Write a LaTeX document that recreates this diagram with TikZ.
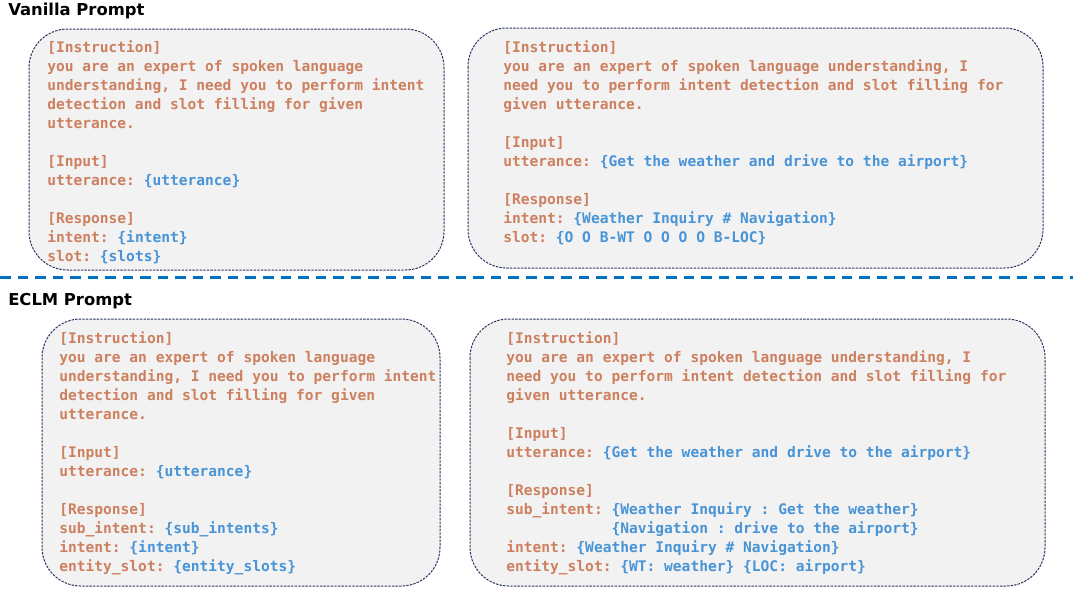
\documentclass[tikz,border=0pt]{standalone}
\usepackage{fontspec}
\newfontfamily\monof{DejaVu Sans Mono}
\newfontfamily\headf{DejaVu Sans}
\definecolor{ortxt}{RGB}{205,128,95}
\definecolor{bltxt}{RGB}{72,148,214}
\definecolor{boxline}{RGB}{40,55,95}
\definecolor{boxfill}{RGB}{242,242,242}
\definecolor{sepblue}{RGB}{0,112,192}
\newcommand\bl[1]{\textcolor{bltxt}{#1}}
\begin{document}
\begin{tikzpicture}[x=0.75pt,y=-0.75pt,
  promptbox/.style={draw=boxline, fill=boxfill, line width=0.75pt, dash pattern=on 1.8pt off 0.9pt, rounded corners=29pt},
  prompttext/.style={anchor=north west, inner sep=0pt, align=left, text=ortxt, font=\monof\bfseries\fontsize{10.93pt}{14.25pt}\selectfont\frenchspacing},
  heading/.style={anchor=base west, inner sep=0pt, font=\headf\bfseries\fontsize{12.3pt}{15pt}\selectfont},
  sepline/.style={draw=sepblue, line width=2.25pt, dash pattern=on 7.9pt off 5.25pt}]
\useasboundingbox (0,0) rectangle (1073,590);

% headings
\node[heading] (h1) at (8,15.7) {Vanilla Prompt};
\node[heading] (h2) at (8,305) {ECLM Prompt};

% separator
\coordinate (sepL) at (0,277);
\coordinate (sepR) at (1073,277);
\draw[sepline] (sepL) -- (sepR);

% boxes
\draw[promptbox] (29,29) rectangle (444,270);
\draw[promptbox] (468,28) rectangle (1043,268);
\draw[promptbox] (42,319) rectangle (440,586);
\draw[promptbox] (470,319) rectangle (1045,586);

% texts
\node[prompttext] (t1) at (47,38.7) {\strut[Instruction]\\
you are an expert of spoken language\\
understanding, I need you to perform intent\\
detection and slot filling for given\\
utterance.\\[14.25pt]
[Input]\\
utterance: \bl{\{utterance\}}\\[14.25pt]
[Response]\\
intent: \bl{\{intent\}}\\
slot: \bl{\{slots\}}};

\node[prompttext] (t2) at (503,38.7) {\strut[Instruction]\\
you are an expert of spoken language understanding, I\\
need you to perform intent detection and slot filling for\\
given utterance.\\[14.25pt]
[Input]\\
utterance: \bl{\{Get the weather and drive to the airport\}}\\[14.25pt]
[Response]\\
intent: \bl{\{Weather Inquiry \# Navigation\}}\\
slot: \bl{\{O O B-WT O O O O B-LOC\}}};

\node[prompttext] (t3) at (59,330.2) {\strut[Instruction]\\
you are an expert of spoken language\\
understanding, I need you to perform intent\\
detection and slot filling for given\\
utterance.\\[14.25pt]
[Input]\\
utterance: \bl{\{utterance\}}\\[14.25pt]
[Response]\\
sub\_intent: \bl{\{sub\_intents\}}\\
intent: \bl{\{intent\}}\\
entity\_slot: \bl{\{entity\_slots\}}};

\node[prompttext] (t4) at (506,330.2) {\strut[Instruction]\\
you are an expert of spoken language understanding, I\\
need you to perform intent detection and slot filling for\\
given utterance.\\[14.25pt]
[Input]\\
utterance: \bl{\{Get the weather and drive to the airport\}}\\[14.25pt]
[Response]\\
sub\_intent: \bl{\{Weather Inquiry : Get the weather\}}\\
\phantom{sub\_intent: }\bl{\{Navigation : drive to the airport\}}\\
intent: \bl{\{Weather Inquiry \# Navigation\}}\\
entity\_slot: \bl{\{WT: weather\} \{LOC: airport\}}};
\end{tikzpicture}
\end{document}
